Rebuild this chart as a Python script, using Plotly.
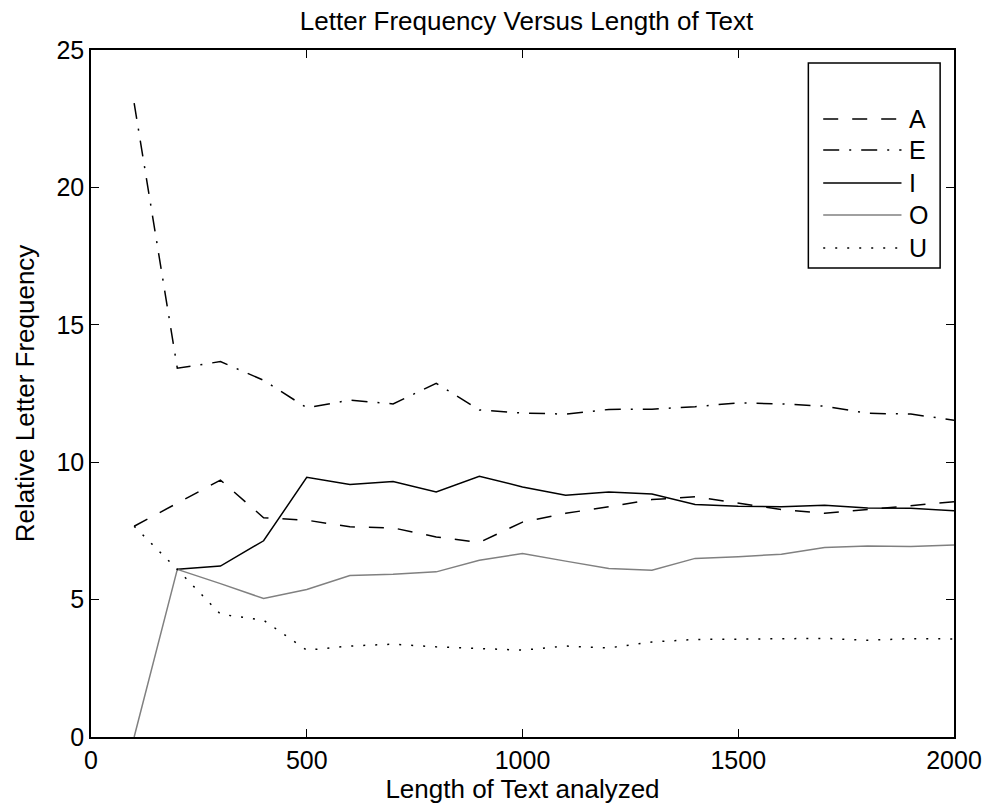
import plotly.graph_objects as go

lengths = [100, 200, 300, 400, 500, 600, 700, 800, 900, 1000,
           1100, 1200, 1300, 1400, 1500, 1600, 1700, 1800, 1900, 2000]

freq_A = [7.67, 8.50, 9.35, 7.98, 7.89, 7.65, 7.61, 7.28, 7.08, 7.82,
          8.14, 8.38, 8.64, 8.74, 8.50, 8.28, 8.14, 8.28, 8.41, 8.56]
freq_E = [23.07, 13.42, 13.66, 12.98, 11.98, 12.26, 12.12, 12.87, 11.90, 11.79,
          11.75, 11.92, 11.93, 12.02, 12.16, 12.12, 12.04, 11.78, 11.75, 11.53]
freq_I = [None, 6.10, 6.22, 7.14, 9.45, 9.19, 9.30, 8.92, 9.49, 9.10,
          8.80, 8.92, 8.84, 8.46, 8.40, 8.38, 8.43, 8.33, 8.32, 8.23]
freq_O = [0.0, 6.10, 5.58, 5.04, 5.37, 5.88, 5.92, 6.01, 6.43, 6.68,
          6.40, 6.13, 6.07, 6.50, 6.56, 6.65, 6.90, 6.95, 6.93, 6.99]
freq_U = [7.67, 6.10, 4.47, 4.25, 3.16, 3.31, 3.38, 3.28, 3.22, 3.16,
          3.31, 3.24, 3.46, 3.55, 3.56, 3.58, 3.59, 3.52, 3.58, 3.57]

letters = ["A", "E", "I", "O", "U"]
series = [freq_A, freq_E, freq_I, freq_O, freq_U]
colors = ["black", "black", "black", "#808080", "black"]
dashes = ["15px,14px", "16px,10px,2px,10px", "solid", "solid", "2px,10px"]

x_ticks = [0, 500, 1000, 1500, 2000]
y_ticks = [0, 5, 10, 15, 20, 25]

FONT = "Liberation Sans, Arial, Helvetica, sans-serif"

fig = go.Figure()
for name, vals, col, dsh in zip(letters, series, colors, dashes):
    fig.add_trace(go.Scatter(
        x=lengths, y=vals, mode="lines", name=name,
        line=dict(color=col, width=1.5, dash=dsh),
        connectgaps=False, showlegend=False,
    ))

# Legend box drawn manually (MATLAB-style long line samples)
L_x0, L_x1 = (815 - 91) / 871, (948 - 91) / 871
L_y0, L_y1 = (737 - 268) / 687, (737 - 63) / 687
shapes = [dict(type="rect", xref="paper", yref="paper",
               x0=L_x0, x1=L_x1, y0=L_y0, y1=L_y1,
               line=dict(color="black", width=1.5), fillcolor="white", layer="above")]
annotations = []
item_px = [119, 150, 183, 215, 248]
for name, col, dsh, ypx in zip(letters, colors, dashes, item_px):
    yp = (737 - ypx) / 687
    shapes.append(dict(type="line", xref="paper", yref="paper",
                       x0=(830 - 91) / 871, x1=(909 - 91) / 871, y0=yp, y1=yp,
                       line=dict(color=col, width=1.5, dash=dsh), layer="above"))
    annotations.append(dict(text=name, xref="paper", yref="paper",
                            x=(915 - 91) / 871, y=yp, xanchor="left", yanchor="middle",
                            showarrow=False, font=dict(family=FONT, size=25, color="black")))

fig.update_layout(
    width=994, height=808,
    margin=dict(l=91, r=32, t=50, b=71),
    paper_bgcolor="white", plot_bgcolor="white",
    font=dict(family=FONT, size=25, color="black"),
    title=dict(text="Letter Frequency Versus Length of Text",
               x=(91 + 962) / 2 / 994, xanchor="center",
               y=1 - 21 / 808, yanchor="middle", yref="container",
               font=dict(family=FONT, size=26, color="black")),
    shapes=shapes,
    annotations=annotations,
    showlegend=False,
)
fig.update_xaxes(
    range=[0, 2000], tickvals=x_ticks, ticktext=[str(v) for v in x_ticks],
    showline=True, linecolor="black", linewidth=1.5, mirror="ticks",
    ticks="inside", ticklen=8, tickwidth=1.2, tickcolor="black",
    showgrid=False, zeroline=False,
    title=dict(text="Length of Text analyzed", standoff=4, font=dict(size=26)),
    tickfont=dict(size=25),
)
fig.update_yaxes(
    range=[0, 25], tickvals=y_ticks, ticktext=[str(v) for v in y_ticks],
    showline=True, linecolor="black", linewidth=1.5, mirror="ticks",
    ticks="inside", ticklen=8, tickwidth=1.2, tickcolor="black",
    showgrid=False, zeroline=False,
    title=dict(text="Relative Letter Frequency", standoff=14, font=dict(size=26)),
    tickfont=dict(size=25),
)

fig.write_html("out.html")
